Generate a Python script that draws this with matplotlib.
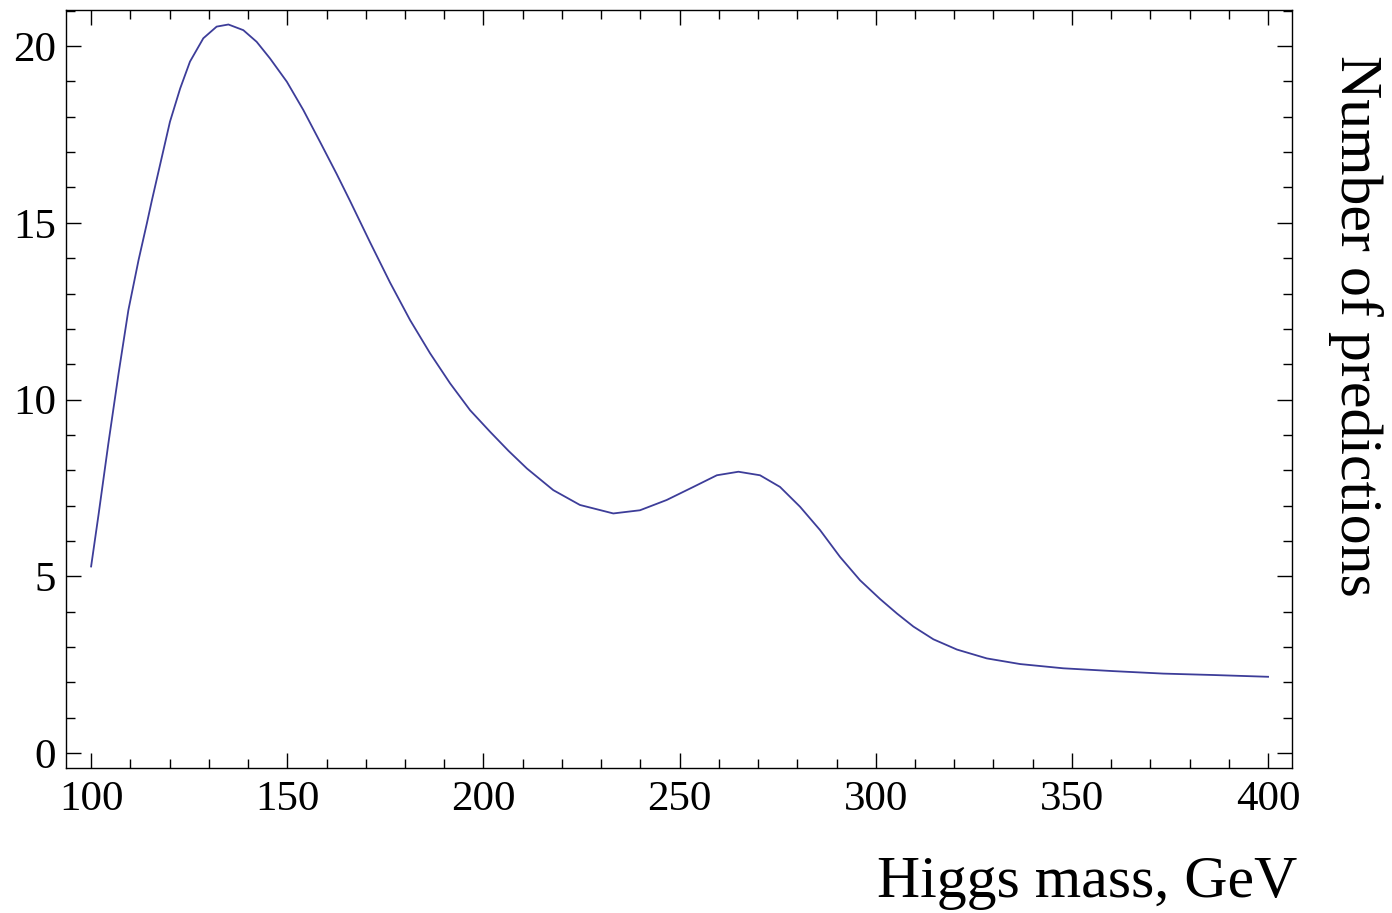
import matplotlib
matplotlib.use('Agg')
import matplotlib.pyplot as plt
from matplotlib.ticker import MultipleLocator

# values
mass = [100, 101.9, 104.4, 107.0, 109.5, 112.1, 114.2, 115.5, 120.1, 122.7,
        125.2, 128.6, 132.0, 135.0, 138.8, 142.2, 145.6, 149.9, 154.1, 158.4,
        162.6, 166.0, 171.1, 176.2, 181.3, 186.4, 191.5, 196.6, 201.7, 206.4,
        211.1, 217.8, 224.6, 233.1, 239.9, 246.7, 253.5, 259.5, 265.0, 270.5,
        275.6, 280.7, 285.8, 290.9, 296.0, 301.1, 305.4, 309.6, 314.7, 320.7,
        328.3, 336.8, 347.8, 360.6, 373.3, 386.1, 400]
predictions = [5.28, 6.75, 8.76, 10.74, 12.53, 13.95, 14.98, 15.64, 17.86, 18.80,
               19.56, 20.22, 20.55, 20.61, 20.45, 20.12, 19.65, 18.99, 18.19, 17.28,
               16.38, 15.62, 14.45, 13.31, 12.25, 11.31, 10.46, 9.70, 9.09, 8.55,
               8.05, 7.44, 7.02, 6.78, 6.87, 7.16, 7.53, 7.86, 7.96, 7.86,
               7.53, 6.97, 6.31, 5.55, 4.89, 4.36, 3.95, 3.58, 3.22, 2.93,
               2.68, 2.52, 2.40, 2.32, 2.25, 2.21, 2.16]

plt.rcParams['font.family'] = ['Liberation Serif', 'DejaVu Serif']

fig = plt.figure(figsize=(13.92, 9.13), dpi=100)
ax = fig.add_axes([66/1392, 145/913, 1226/1392, 758/913])

ax.plot(mass, predictions, color='#3d3d99', lw=1.3, solid_joinstyle='round')

ax.set_xlim(93.6, 406.1)
ax.set_ylim(-0.42, 21.02)
ax.xaxis.set_major_locator(MultipleLocator(50))
ax.xaxis.set_minor_locator(MultipleLocator(10))
ax.yaxis.set_major_locator(MultipleLocator(5))
ax.yaxis.set_minor_locator(MultipleLocator(1))
ax.tick_params(which='both', direction='in', top=True, right=True, width=1.0, colors='black')
ax.tick_params(which='major', length=10.5, labelsize=31)
ax.tick_params(axis='x', which='major', pad=9)
ax.tick_params(axis='y', which='major', pad=7)
ax.tick_params(which='minor', length=6.5)
for s in ax.spines.values():
    s.set_linewidth(1.0)

fig.text(1297/1392, 16/913, 'Higgs mass, GeV', fontsize=43, ha='right', va='baseline')
fig.text(1355/1392, (913-55)/913, 'Number of predictions', fontsize=43,
         rotation=-90, ha='center', va='top')

fig.savefig('out.png', dpi=100)
